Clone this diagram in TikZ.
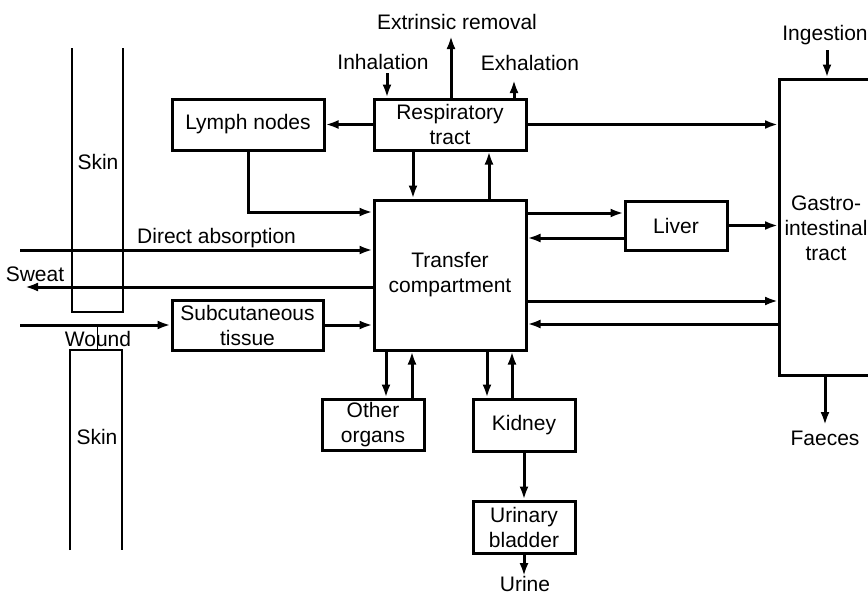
\documentclass[tikz,border=0pt]{standalone}
\usepackage{fontspec}
\setmainfont{Liberation Sans}
\usetikzlibrary{arrows.meta}
\begin{document}
\begin{tikzpicture}[x=1pt,y=-1pt,
  every node/.style={font=\fontsize{21}{25}\selectfont, align=center},
  box/.style={draw, line width=3pt, inner sep=0pt},
  lbl/.style={inner sep=1pt},
  arr/.style={line width=3pt, -{Latex[length=13pt,width=9pt]}},
  skinline/.style={line width=2.6pt}]
\useasboundingbox (0,0) rectangle (868,595);
% skin
\draw[skinline] (72,48) -- (72,312) -- (123,312) -- (123,48);
\draw[skinline] (70,550) -- (70,350) -- (122,350) -- (122,550);
\draw[line width=1pt] (97,327) -- (97,350);
\node[lbl] (skinA) at (98,162) {Skin};
\node[lbl] (skinB) at (97,437) {Skin};
% boxes
\node[box, minimum width=152, minimum height=51] (lymph) at (248,124.5) {Lymph nodes};
\node[box, minimum width=152, minimum height=51] (resp) at (450,124.5) {Respiratory\\tract};
\node[box, minimum width=152, minimum height=150] (transfer) at (450,275) {Transfer\\compartment};
\node[box, minimum width=102, minimum height=49] (liver) at (676,225.5) {Liver};
\node[box, minimum width=182, minimum height=296, anchor=west] (gi) at (778,227) {};
\node[lbl] (gitext) at (826,228) {Gastro-\\intestinal\\tract};
\node[box, minimum width=151, minimum height=50] (subcut) at (247.5,325) {Subcutaneous\\tissue};
\node[box, minimum width=102, minimum height=51] (other) at (373,424.5) {Other\\organs};
\node[box, minimum width=102, minimum height=52] (kidney) at (524,425) {Kidney};
\node[box, minimum width=102, minimum height=52] (bladder) at (524,527) {Urinary\\bladder};
% labels
\node[lbl] (extr) at (457,22) {Extrinsic removal};
\node[lbl] (inhal) at (383,62) {Inhalation};
\node[lbl] (exhal) at (530,63) {Exhalation};
\node[lbl] (ingest) at (825,35) {Ingestion};
\node[lbl] (faeces) at (825,438) {Faeces};
\node[lbl, inner sep=0pt] (urine) at (525,584) {Urine};
\node[lbl, anchor=west] (dalbl) at (136,238) {Direct absorption};
\node[lbl] (sweatlbl) at (35,274) {Sweat};
\node[lbl] (woundlbl) at (98,339) {Wound};
\coordinate (da) at (20,250);
\coordinate (sw) at (25,287);
\coordinate (wd) at (20,325);
% connectors
\draw[arr] (resp.west) -- (lymph.east);
\draw[arr] (lymph.south) |- (transfer.west |- 0,212);
\draw[arr] (da) -- (transfer.west |- da);
\draw[arr] (transfer.west |- sw) -- (sw);
\draw[arr] (wd) -- (subcut.west);
\draw[arr] (subcut.east) -- (transfer.west |- subcut.east);
\draw[arr] (387,73) -- (resp.north -| 387,0);
\draw[arr] (resp.north -| 451,0) -- (451,36);
\draw[arr] (resp.north -| 514,0) -- (514,80);
\draw[arr] (resp.east) -- (resp.east -| gi.west);
\draw[arr] (resp.south -| 413,0) -- (transfer.north -| 413,0);
\draw[arr] (transfer.north -| 489,0) -- (resp.south -| 489,0);
\draw[arr] (transfer.east |- 0,213) -- (liver.west |- 0,213);
\draw[arr] (liver.west |- 0,238) -- (transfer.east |- 0,238);
\draw[arr] (liver.east) -- (liver.east -| gi.west);
\draw[arr] (transfer.east |- 0,301) -- (gi.west |- 0,301);
\draw[arr] (gi.west |- 0,324) -- (transfer.east |- 0,324);
\draw[arr] (transfer.south -| 386,0) -- (other.north -| 386,0);
\draw[arr] (other.north -| 412,0) -- (transfer.south -| 412,0);
\draw[arr] (transfer.south -| 487,0) -- (kidney.north -| 487,0);
\draw[arr] (kidney.north -| 512,0) -- (transfer.south -| 512,0);
\draw[arr] (kidney.south) -- (bladder.north);
\draw[arr] (bladder.south) -- (bladder.south |- urine.north);
\draw[arr] (827,50) -- (gi.north -| 827,0);
\draw[arr] (gi.south -| 825,0) -- (825,425);
\end{tikzpicture}
\end{document}
